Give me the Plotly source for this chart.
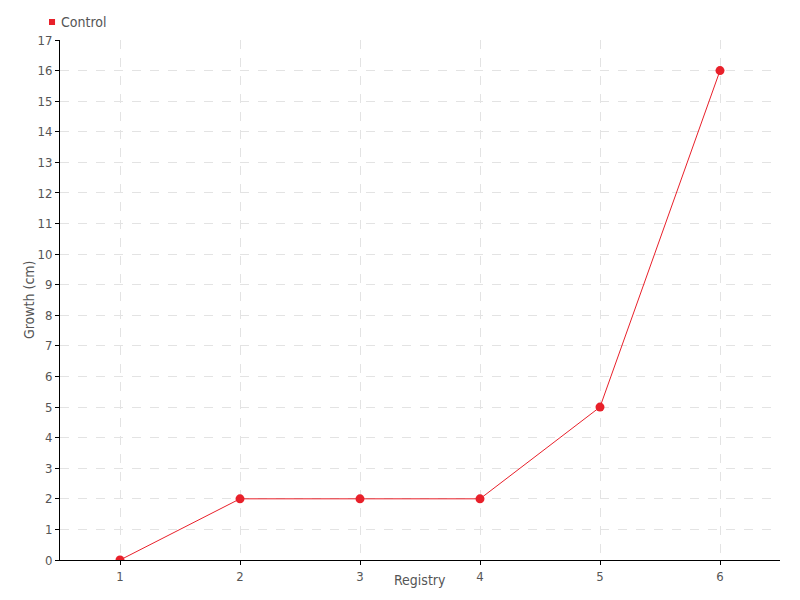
import plotly.graph_objects as go

registry = [1, 2, 3, 4, 5, 6]
growth = [0, 2, 2, 2, 5, 16]
series_name = "Control"
x_title = "Registry"
y_title = "Growth (cm)"

font_name = "DejaVu Sans Condensed"
red = "#e8202a"
grey = "#555555"

fig = go.Figure()
fig.add_trace(go.Scatter(
    x=registry, y=growth, name=series_name, mode="lines+markers",
    line=dict(color=red, width=1),
    marker=dict(color=red, size=9),
    showlegend=False,
))

# legend drawn by hand so it does not push the margins
fig.add_shape(type="rect", xref="paper", yref="paper",
              x0=-0.0153, x1=-0.0069, y0=1.0288, y1=1.0404,
              fillcolor=red, line_width=0)
fig.add_annotation(text=series_name, xref="paper", yref="paper",
                   x=-0.0014, y=1.0346, xanchor="left", yanchor="middle",
                   showarrow=False, font=dict(size=14, color=grey))

# axis titles
fig.add_annotation(text=x_title, xref="paper", yref="paper",
                   x=0.5, y=-0.0385, xanchor="center", yanchor="middle",
                   showarrow=False, font=dict(size=14, color=grey))
fig.add_annotation(text=y_title, xref="paper", yref="paper",
                   x=-0.0430, y=0.5, xanchor="center", yanchor="middle",
                   textangle=-90, showarrow=False,
                   font=dict(size=14, color=grey))

fig.update_layout(
    width=800, height=600,
    margin=dict(l=60, r=20, t=40, b=40, autoexpand=False),
    plot_bgcolor="white", paper_bgcolor="white",
    font=dict(family=font_name, size=14, color=grey),
    showlegend=False,
)
fig.update_xaxes(
    range=[0.5, 6.5], tickvals=registry, showline=True, linecolor="black",
    linewidth=1, ticks="outside", ticklen=4, tickcolor="black",
    tickfont=dict(size=13),
    showgrid=True, gridcolor="#e3e3e3", griddash="dash", zeroline=False,
    automargin=False,
)
fig.update_yaxes(
    range=[0, 17], dtick=1, showline=True, linecolor="black",
    linewidth=1, ticks="outside", ticklen=4, tickcolor="black",
    tickfont=dict(size=13), ticklabelstandoff=0,
    showgrid=True, gridcolor="#e3e3e3", griddash="dash", zeroline=False,
    automargin=False,
)

fig.write_html("out.html", config={"displayModeBar": False},
               post_script="document.body.style.margin='0';")
